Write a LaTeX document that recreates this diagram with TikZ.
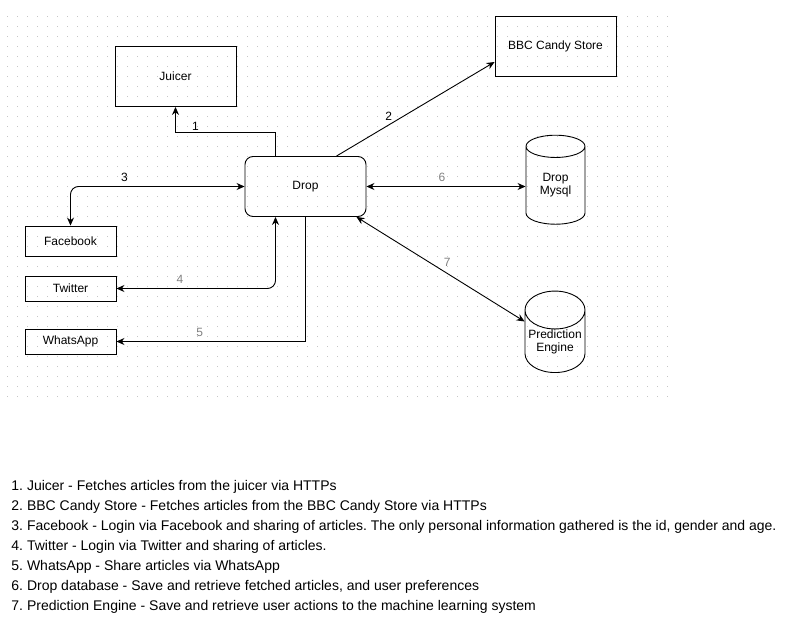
\documentclass[tikz,border=0pt]{standalone}
\usepackage{fontspec}
\setmainfont{Liberation Sans}
\usetikzlibrary{arrows.meta,shapes.geometric}
\frenchspacing

\begin{document}
\begin{tikzpicture}[x=1pt,y=-1pt,>={Stealth[length=8pt,width=7pt]},line width=0.9pt,
                    font=\fontsize{12}{13}\selectfont]
  \tikzstyle{box}=[draw,rectangle,minimum width=121pt,minimum height=60pt,inner sep=0pt]
  \tikzstyle{app}=[draw,rectangle,minimum width=91pt,minimum height=25pt,inner sep=0pt]
  \tikzstyle{db}=[draw,cylinder,shape border rotate=90,aspect=0.71,minimum width=59pt,
                  align=center,inner sep=0pt]
  \tikzstyle{num}=[inner sep=1pt,text=black]
  \tikzstyle{gnum}=[inner sep=1pt,text=gray]
  \tikzstyle{dots}=[draw=gray!45,line width=1pt,dash pattern=on 1pt off 9pt]

  \useasboundingbox (0,0) rectangle (803,624);
  \foreach \y in {16,26,...,396}
    \draw[dots] (7,\y) -- (669,\y);

  \node[box] (juicer)                     at (175.5,76.5) {Juicer};
  \node[box] (bbc)                        at (555.5,46)   {BBC Candy Store};
  \node[box,rounded corners=8pt] (drop)   at (305.5,186.5) {Drop};
  \node[app,minimum height=30pt] (fb)     at (70.5,241)   {Facebook};
  \node[app] (tw)                         at (70.5,288.5) {Twitter};
  \node[app] (wa)                         at (70.5,341.5) {WhatsApp};
  \node[db,minimum height=89pt] (mysql)   at (555.5,185.5) {Drop\\Mysql};
  \node[db,minimum height=79pt,minimum width=60pt] (pred) at (555,341.5) {Prediction\\Engine};

  \draw[<-] (juicer.south) -- ++(0,25) -| node[num,above,pos=0.1] {1} ([xshift=-30pt]drop.north);
  \path ([xshift=31pt]drop.north) edge[->] node[num,above=3pt,pos=0.33] {2} ([yshift=-16pt]bbc.west);
  \draw[<->,rounded corners=8pt] (drop.west) -| node[num,above=3.5pt,pos=0.345] {3} (fb.north);
  \draw[<->,rounded corners=8pt] (tw.east) -| node[gnum,above=4pt,pos=0.2] {4} ([xshift=-30pt]drop.south);
  \draw[->] (drop.south) |- node[gnum,above=3.5pt,pos=0.78] {5} (wa.east);
  \path (drop.east) edge[<->] node[gnum,above=3.5pt,pos=0.475] {6} (drop.east -| mysql.west)
        ([xshift=-10pt]drop.south east) edge[<->] node[gnum,above=5pt,pos=0.54] {7} ([yshift=20pt]pred.west);

  \node[anchor=north west,align=left,inner sep=0pt,font=\fontsize{14}{20}\selectfont] (legend) at (11,480)
    {1. Juicer - Fetches articles from the juicer via HTTPs\\
     2. BBC Candy Store - Fetches articles from the BBC Candy Store via HTTPs\\
     3. Facebook - Login via Facebook and sharing of articles. The only personal information gathered is the id, gender and age.\\
     4. Twitter - Login via Twitter and sharing of articles.\\
     5. WhatsApp - Share articles via WhatsApp\\
     6. Drop database - Save and retrieve fetched articles, and user preferences\\
     7. Prediction Engine - Save and retrieve user actions to the machine learning system};
\end{tikzpicture}
\end{document}
